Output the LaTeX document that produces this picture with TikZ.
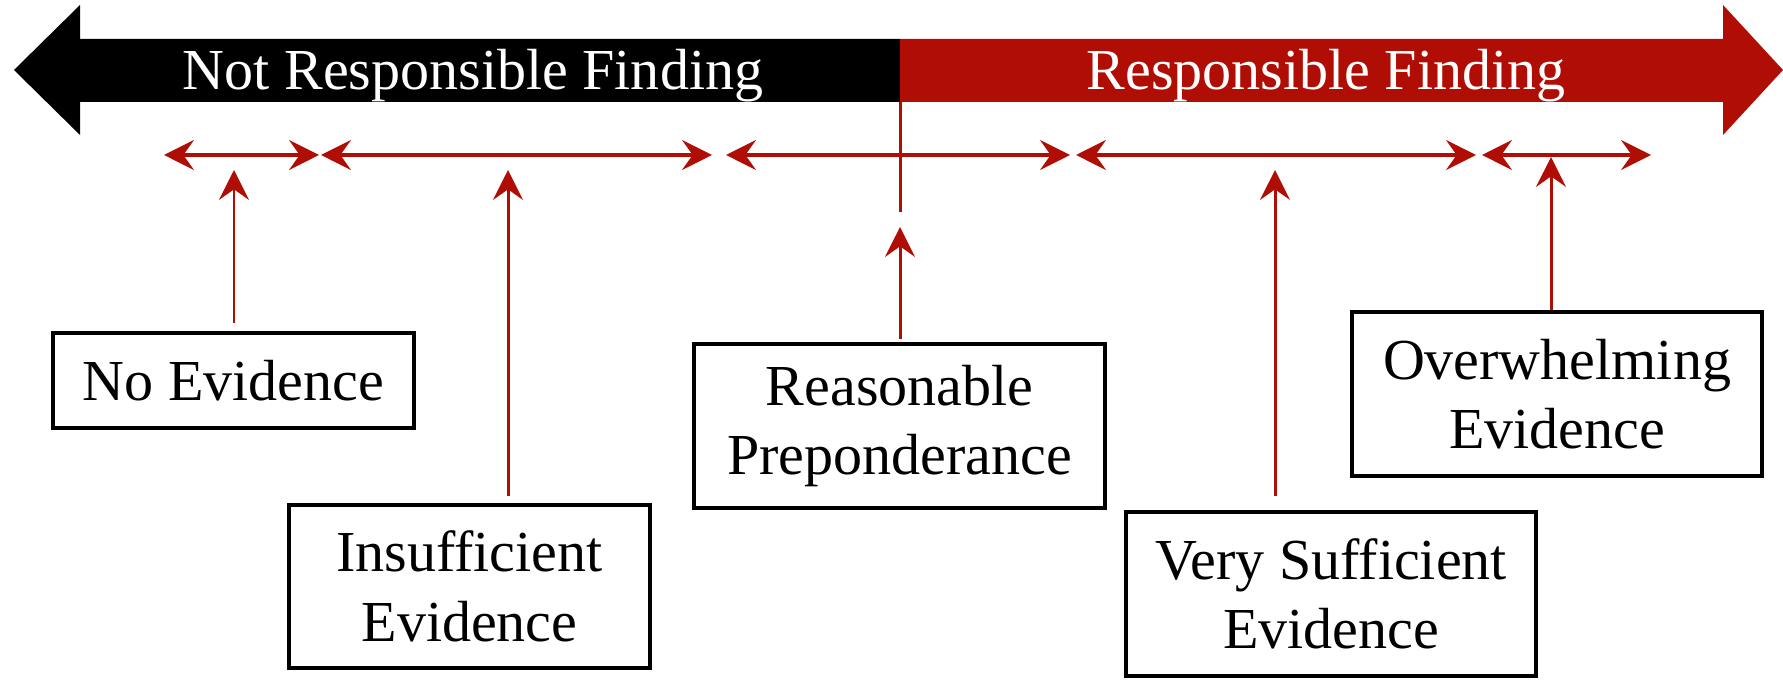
\documentclass[tikz,border=0pt]{standalone}
\usepackage{fontspec}
\setmainfont{Liberation Serif}
\usepackage{xcolor}
\usepackage{tikz}
\usetikzlibrary{arrows.meta}
\definecolor{findred}{RGB}{176,14,4}
\newcommand{\evfont}{\fontsize{16.5}{19.8}\selectfont}

\begin{document}
\begin{tikzpicture}[x=0.01cm, y=-0.01cm,
  evbox/.style={draw, line width=1pt, align=center, inner sep=0pt, font=\evfont},
  span/.style={findred, line width=1.1pt, {Stealth[length=8.5pt,width=8.5pt,inset=3pt]}-{Stealth[length=8.5pt,width=8.5pt,inset=3pt]}},
  pointer/.style={findred, line width=0.85pt, -{Stealth[length=8.5pt,width=8.5pt,inset=3pt]}, shorten <=2pt}]
  \useasboundingbox (0,0) rectangle (1783,680);
  % Big two-way arrow at the top
  \fill[black] (900,39) -- (80,39) -- (80,5) -- (14,70) -- (80,135) -- (80,102) -- (900,102) -- cycle;
  \fill[findred] (900,39) -- (1723,39) -- (1723,5) -- (1783,70) -- (1723,135) -- (1723,102) -- (900,102) -- cycle;
  \node[font=\evfont, text=white, anchor=base, inner sep=0pt] (notresp) at (473,90) {Not Responsible Finding};
  \node[font=\evfont, text=white, anchor=base, inner sep=0pt] (resp) at (1326,90) {Responsible Finding};
  \coordinate (split) at (900,102);
  \coordinate (splitend) at (900,212);
  \draw[findred, line width=0.85pt] (split) -- (splitend);
  % Ranges under the arrow
  \coordinate (s1a) at (164,155); \coordinate (s1b) at (319,155);
  \coordinate (s2a) at (321,155); \coordinate (s2b) at (712,155);
  \coordinate (s3a) at (726,155); \coordinate (s3b) at (1070,155);
  \coordinate (s4a) at (1076,155); \coordinate (s4b) at (1476,155);
  \coordinate (s5a) at (1482,155); \coordinate (s5b) at (1651,155);
  \draw[span] (s1a) -- (s1b);
  \draw[span] (s2a) -- (s2b);
  \draw[span] (s3a) -- (s3b);
  \draw[span] (s4a) -- (s4b);
  \draw[span] (s5a) -- (s5b);
  % Evidence boxes
  \node[evbox, minimum width=3.61cm, minimum height=0.95cm] (noev) at (233.5,380.5) {No Evidence};
  \node[evbox, minimum width=3.61cm, minimum height=1.63cm] (insuf) at (469.5,586.5) {Insufficient\\Evidence};
  \node[evbox, minimum width=4.11cm, minimum height=1.64cm] (reas) at (899.5,426) {Reasonable\\Preponderance};
  \node[evbox, minimum width=4.10cm, minimum height=1.64cm] (vsuf) at (1331,594) {Very Sufficient\\Evidence};
  \node[evbox, minimum width=4.10cm, minimum height=1.64cm] (overw) at (1557,394) {Overwhelming\\Evidence};
  % Pointers from boxes
  \coordinate (p1) at (234,170);
  \coordinate (p2) at (508,170);
  \coordinate (p3) at (900,227);
  \coordinate (p4) at (1275,170);
  \coordinate (p5) at (1551,157);
  \draw[pointer, shorten <=2.3pt] (noev.north -| p1) -- (p1);
  \draw[pointer] (insuf.north -| p2) -- (p2);
  \draw[pointer, shorten <=1pt] (reas.north -| p3) -- (p3);
  \draw[pointer, shorten <=4pt] (vsuf.north -| p4) -- (p4);
  \draw[pointer, shorten <=0pt] (overw.north -| p5) -- (p5);
\end{tikzpicture}
\end{document}
